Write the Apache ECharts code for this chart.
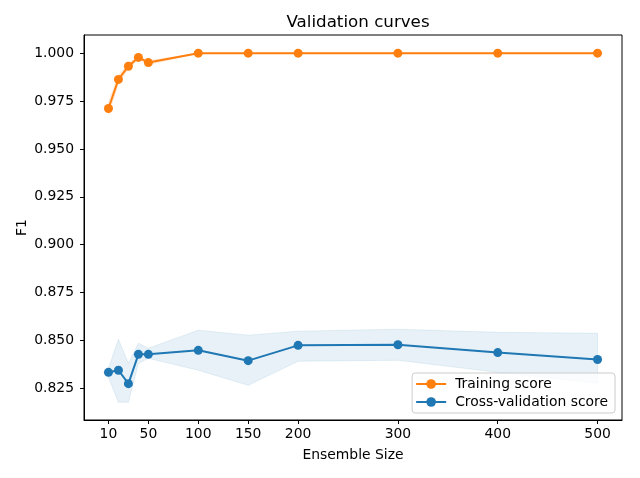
<!DOCTYPE html>
<html>
<head>
<meta charset="utf-8">
<script src="https://cdn.jsdelivr.net/npm/echarts@6/dist/echarts.min.js"></script>
<style>
  html, body { margin: 0; padding: 0; background: #fff; }
  #chart { width: 640px; height: 478px; }
</style>
</head>
<body>
<div id="chart"></div>
<script>
var sizes = [10, 20, 30, 40, 50, 100, 150, 200, 300, 400, 500];
var trainMean = [0.9711, 0.9863, 0.9932, 0.9978, 0.9951, 1.0, 1.0, 1.0, 1.0, 1.0, 1.0];
var trainLow = [0.9680, 0.9843, 0.9917, 0.9968, 0.9941, 1.0, 1.0, 1.0, 1.0, 1.0, 1.0];
var trainHigh = [0.9742, 0.9883, 0.9947, 0.9988, 0.9961, 1.0, 1.0, 1.0, 1.0, 1.0, 1.0];
var cvMean = [0.8333, 0.8344, 0.8274, 0.8427, 0.8427, 0.8448, 0.8394, 0.8474, 0.8477, 0.8436, 0.8400];
var cvLow = [0.8307, 0.8177, 0.8177, 0.8380, 0.8406, 0.8344, 0.8265, 0.8391, 0.8396, 0.8333, 0.8276];
var cvHigh = [0.8354, 0.8506, 0.8380, 0.8485, 0.8459, 0.8553, 0.8527, 0.8548, 0.8558, 0.8542, 0.8537];
var xTicks = [10, 50, 100, 150, 200, 300, 400, 500];
var yTicks = [0.825, 0.85, 0.875, 0.9, 0.925, 0.95, 0.975, 1.0];

var orange = '#ff7f0e';
var blue = '#1f77b4';
var font = 'DejaVu Sans';

function pairs(ys) {
	return sizes.map(function (x, i) { return [x, ys[i]]; });
}

// fill_between style band, drawn as one polygon through the axis scales
function bandSeries(lo, hi, fill) {
	return {
		type: 'custom',
		silent: true,
		clip: true,
		data: sizes.map(function (x, i) { return [x, lo[i], hi[i]]; }),
		encode: { x: 0, y: [1, 2] },
		renderItem: function (params, api) {
			if (params.dataIndex !== 0) return;
			var top = [], bottom = [];
			for (var i = 0; i < sizes.length; i++) {
				top.push(api.coord([sizes[i], hi[i]]));
				bottom.unshift(api.coord([sizes[i], lo[i]]));
			}
			return {
				type: 'polygon',
				shape: { points: top.concat(bottom) },
				style: { fill: fill, stroke: fill, lineWidth: 1 }
			};
		}
	};
}

var chart = echarts.init(document.getElementById('chart'));

var option = {
	animation: false,
	title: {
		text: 'Validation curves',
		left: 353,
		top: 9,
		textAlign: 'center',
		textStyle: { fontFamily: font, fontSize: 16.7, fontWeight: 'normal', color: '#000' }
	},
	grid: { left: 84, right: 18, top: 35, bottom: 58, show: true, borderColor: '#000', borderWidth: 1 },
	legend: {
		data: ['Training score', 'Cross-validation score'],
		orient: 'vertical',
		right: 25,
		bottom: 65,
		itemWidth: 30,
		itemHeight: 12,
		itemGap: 4,
		padding: [4, 7, 4, 3],
		borderColor: '#cccccc',
		borderWidth: 1,
		borderRadius: 3,
		backgroundColor: 'rgba(255,255,255,0.8)',
		textStyle: { fontFamily: font, fontSize: 13.9, color: '#000', padding: [0, 0, 0, 4] }
	},
	xAxis: {
		type: 'value',
		min: -14.5,
		max: 524.5,
		name: 'Ensemble Size',
		nameLocation: 'middle',
		nameGap: 28,
		nameMoveOverlap: false,
		nameTextStyle: { fontFamily: font, fontSize: 13.9, color: '#000' },
		axisLine: { onZero: false, lineStyle: { color: '#000', width: 1 } },
		axisTick: { show: true, length: 4, customValues: xTicks, lineStyle: { color: '#000' } },
		axisLabel: { customValues: xTicks, margin: 7, fontFamily: font, fontSize: 13.9, color: '#000' },
		splitLine: { show: false }
	},
	yAxis: {
		type: 'value',
		min: 0.8084,
		max: 1.0095,
		name: 'F1',
		nameLocation: 'middle',
		nameGap: 55,
		nameMoveOverlap: false,
		nameTextStyle: { fontFamily: font, fontSize: 13.9, color: '#000' },
		axisLine: { show: true, onZero: false, lineStyle: { color: '#000', width: 1 } },
		axisTick: { show: true, length: 4, customValues: yTicks, lineStyle: { color: '#000' } },
		axisLabel: {
			customValues: yTicks,
			margin: 10,
			fontFamily: font,
			fontSize: 13.9,
			color: '#000',
			formatter: function (v) { return v.toFixed(3); }
		},
		splitLine: { show: false }
	},
	series: [
		bandSeries(trainLow, trainHigh, 'rgba(255,127,14,0.12)'),
		bandSeries(cvLow, cvHigh, 'rgba(31,119,180,0.1)'),
		{
			name: 'Training score',
			type: 'line',
			data: pairs(trainMean),
			symbol: 'circle',
			symbolSize: 9,
			color: orange,
			lineStyle: { color: orange, width: 2 },
			itemStyle: { color: orange }
		}, {
			name: 'Cross-validation score',
			type: 'line',
			data: pairs(cvMean),
			symbol: 'circle',
			symbolSize: 9,
			color: blue,
			lineStyle: { color: blue, width: 2 },
			itemStyle: { color: blue }
		}
	]
};

chart.setOption(option);
window.addEventListener('resize', function () {
	chart.resize();
});
</script>
</body>
</html>
